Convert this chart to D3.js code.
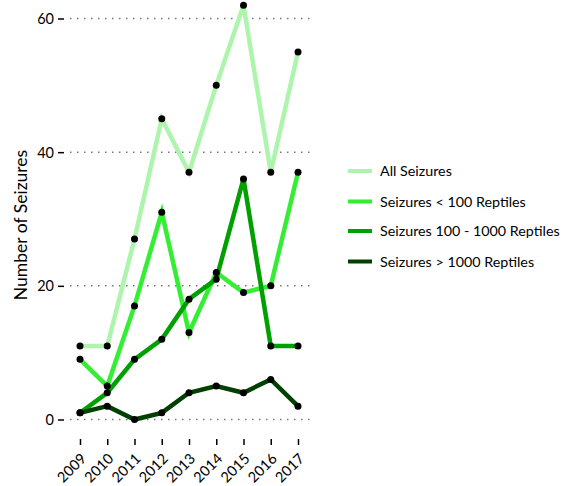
<!DOCTYPE html>
<html><head><meta charset="utf-8">
<script src="https://cdn.jsdelivr.net/npm/d3@7"></script>
<style>
body{margin:0;background:#fff;}
svg text{font-family:"Lato","Open Sans",sans-serif;fill:#000;}
</style></head>
<body><svg id="c" width="573" height="486"></svg>
<script>
const years = ["2009","2010","2011","2012","2013","2014","2015","2016","2017"];
const allSeizures = [11, 11, 27, 45, 37, 50, 62, 37, 55];
const under100 = [9, 5, 17, 31, 13, 22, 19, 20, 37];
const mid100to1000 = [1, 4, 9, 12, 18, 21, 36, 11, 11];
const over1000 = [1, 2, 0, 1, 4, 5, 4, 6, 2];
const seriesNames = ["All Seizures", "Seizures < 100 Reptiles", "Seizures 100 - 1000 Reptiles", "Seizures > 1000 Reptiles"];
const seriesColors = ["#adf5ad", "#33ee33", "#00a000", "#004000"];
const yTicks = [0, 20, 40, 60];

const seriesData = [allSeizures, under100, mid100to1000, over1000];
const svg = d3.select("#c");
const x = d3.scalePoint().domain(years).range([80, 298]);
const y = d3.scaleLinear().domain([0, 60]).range([419.5, 18.5]);

// grid
svg.append("g").selectAll("line").data(yTicks).join("line")
  .attr("x1", 70).attr("x2", 312)
  .attr("y1", d => y(d)).attr("y2", d => y(d))
  .attr("stroke", "#777").attr("stroke-width", 1.5)
  .attr("stroke-dasharray", "1.5,5.5");

// y axis
const ya = svg.append("g").attr("transform", "translate(64,0)")
  .call(d3.axisLeft(y).tickValues(yTicks).tickSize(6).tickPadding(4).tickFormat(d3.format("d")));
ya.select(".domain").remove();
ya.selectAll("line").attr("stroke", "#000").attr("stroke-width", 1.5);
ya.selectAll("text").attr("font-size", 14.5).attr("dy", "0.35em");

// x axis
const xa = svg.append("g").attr("transform", "translate(0,439)")
  .call(d3.axisBottom(x).tickSize(6));
xa.select(".domain").remove();
xa.selectAll("line").attr("stroke", "#000").attr("stroke-width", 1.5);
xa.selectAll("text").attr("font-size", 14.5)
  .attr("x", 0).attr("y", 0)
  .attr("text-anchor", "end")
  .attr("dy", "0.35em")
  .attr("transform", "translate(3,17) rotate(-45)");

// y title
svg.append("text")
  .attr("transform", "translate(27,225) rotate(-90)")
  .attr("text-anchor", "middle")
  .attr("font-size", 17.5)
  .text("Number of Seizures");

// lines
const line = d3.line().x((d, i) => x(years[i])).y(d => y(d));
seriesData.forEach((s, k) => {
  svg.append("path").datum(s).attr("d", line)
    .attr("fill", "none").attr("stroke", seriesColors[k])
    .attr("stroke-width", 4.5).attr("stroke-linejoin", "miter");
});
seriesData.forEach((s) => {
  svg.append("g").selectAll("circle").data(s).join("circle")
    .attr("cx", (d, i) => x(years[i])).attr("cy", d => y(d))
    .attr("r", 3.5).attr("fill", "#000");
});

// legend
const lg = svg.append("g");
const legY = [171, 201.5, 231, 261.5];
seriesNames.forEach((n, k) => {
  lg.append("rect").attr("x", 348).attr("y", legY[k] - 2).attr("width", 24).attr("height", 4)
    .attr("fill", seriesColors[k]);
  lg.append("text").attr("x", 380).attr("y", legY[k]).attr("dy", "0.35em")
    .attr("font-size", 14.3).text(n);
});
</script></body></html>
